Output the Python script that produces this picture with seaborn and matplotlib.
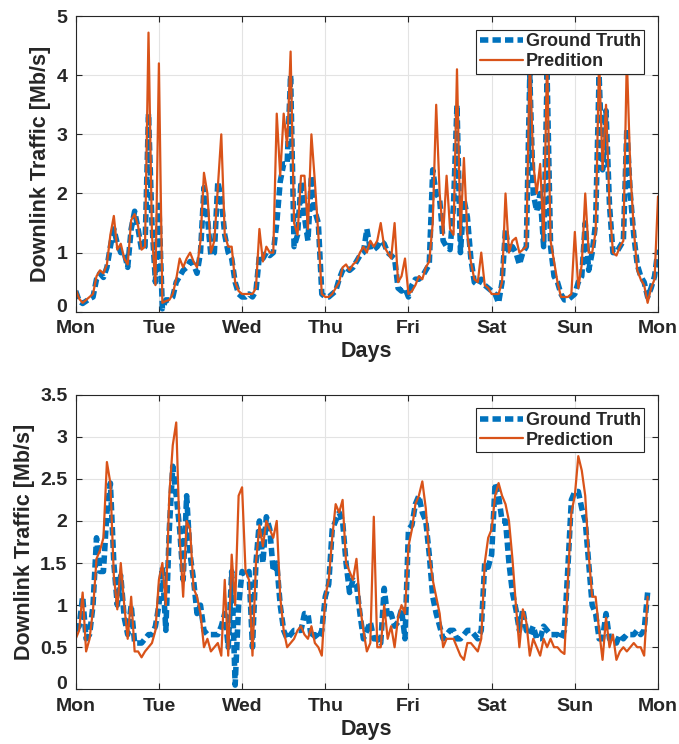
import numpy as np
import pandas as pd
import matplotlib
matplotlib.use("Agg")
import matplotlib.pyplot as plt
from matplotlib.ticker import FuncFormatter
import seaborn as sns

day_labels = ["Mon", "Tue", "Wed", "Thu", "Fri", "Sat", "Sun", "Mon"]

# Hourly downlink traffic of the first cell (Mb/s), Mon 00:00 .. next Mon 00:00
truth_a = [
    0.35, 0.18, 0.14, 0.18, 0.22, 0.25, 0.55, 0.65, 0.58, 0.75, 1.1, 1.4,
    1.15, 1.0, 1.0, 0.75, 1.4, 1.7, 1.4, 1.05, 1.1, 3.35, 1.5, 0.5,
    1.8, 0.05, 0.2, 0.2, 0.25, 0.5, 0.6, 0.7, 0.75, 0.85, 0.8, 0.65,
    1.0, 2.1, 1.6, 0.95, 1.0, 2.2, 1.9, 1.3, 1.0, 0.9, 0.5, 0.3,
    0.25, 0.25, 0.3, 0.25, 0.35, 0.95, 0.9, 1.0, 0.95, 1.0, 1.5, 2.2,
    2.5, 2.5, 4.0, 1.1, 1.3, 2.2, 1.6, 1.2, 2.3, 1.7, 1.5, 0.3,
    0.25, 0.25, 0.3, 0.35, 0.55, 0.7, 0.75, 0.7, 0.75, 0.85, 0.95, 1.0,
    1.4, 1.05, 1.05, 1.1, 1.2, 1.15, 1.0, 0.95, 0.9, 0.4, 0.35, 0.4,
    0.25, 0.45, 0.55, 0.55, 0.6, 0.7, 0.8, 2.4, 2.0, 1.9, 1.2, 1.1,
    1.05, 1.8, 3.5, 1.0, 1.9, 1.6, 0.9, 0.5, 0.45, 0.55, 0.45, 0.4,
    0.35, 0.3, 0.15, 0.5, 1.4, 1.0, 1.1, 1.0, 0.8, 1.0, 1.1, 4.0,
    2.0, 1.7, 2.0, 1.1, 4.0, 1.1, 0.6, 0.5, 0.3, 0.2, 0.2, 0.25,
    0.3, 0.5, 0.6, 1.5, 0.7, 1.0, 1.5, 4.0, 2.4, 3.4, 1.8, 1.0,
    1.0, 1.1, 1.2, 3.1, 2.0, 1.3, 0.8, 0.6, 0.5, 0.25, 0.4, 0.6,
    1.05,
]
pred_a = [
    0.38, 0.22, 0.15, 0.2, 0.25, 0.3, 0.6, 0.7, 0.65, 0.8, 1.3, 1.62,
    1.05, 1.15, 0.9, 0.8, 1.55, 1.65, 1.45, 1.05, 1.1, 4.72, 1.3, 0.45,
    4.2, 0.15, 0.18, 0.2, 0.3, 0.55, 0.9, 0.75, 0.9, 1.0, 0.85, 0.75,
    1.2, 2.35, 2.0, 1.0, 1.2, 2.1, 3.0, 1.3, 1.1, 1.1, 0.5, 0.35,
    0.3, 0.3, 0.3, 0.3, 0.4, 1.4, 0.85, 1.1, 1.0, 1.0, 3.35, 2.3,
    3.35, 2.8, 4.4, 1.5, 1.3, 2.3, 2.3, 1.4, 3.0, 2.2, 1.3, 0.3,
    0.25, 0.25, 0.3, 0.4, 0.5, 0.75, 0.8, 0.7, 0.8, 0.85, 1.0, 1.1,
    1.0, 1.2, 1.1, 1.2, 1.5, 1.1, 1.0, 0.9, 1.5, 0.5, 0.6, 0.9,
    0.3, 0.35, 0.45, 0.6, 0.55, 0.75, 0.85, 1.5, 3.5, 2.0, 1.3, 2.3,
    1.4, 1.3, 4.1, 1.3, 2.6, 1.3, 0.85, 0.55, 0.5, 1.0, 0.45, 0.4,
    0.3, 0.3, 0.3, 0.5, 2.0, 1.0, 1.2, 1.25, 1.0, 1.05, 1.1, 4.3,
    2.5, 2.0, 2.5, 1.2, 4.3, 1.2, 0.85, 0.5, 0.25, 0.25, 0.25, 0.3,
    1.35, 0.4, 0.8, 2.0, 1.0, 1.0, 1.35, 4.3, 2.4, 3.5, 1.8, 1.0,
    0.95, 1.1, 1.2, 4.3, 2.4, 1.4, 0.7, 0.55, 0.45, 0.15, 0.4, 0.55,
    1.95,
]

# Hourly downlink traffic of the second cell (Mb/s), Mon 00:00 .. Sun 21:00
truth_b = [
    0.7, 0.75, 1.1, 0.6, 0.65, 1.0, 1.8, 1.4, 1.4, 2.1, 2.45, 1.5,
    1.0, 1.35, 0.85, 0.65, 1.0, 0.55, 0.55, 0.55, 0.6, 0.65, 0.65, 0.75,
    1.0, 1.45, 0.7, 1.9, 2.65, 2.3, 1.9, 1.3, 2.3, 1.6, 1.3, 0.9,
    1.0, 0.7, 0.65, 0.65, 0.65, 0.65, 0.75, 0.9, 0.5, 1.4, 0.05, 1.0,
    1.4, 1.35, 1.4, 0.5, 1.5, 2.0, 1.5, 2.05, 1.9, 1.4, 1.5, 1.0,
    0.7, 0.6, 0.65, 0.7, 0.7, 0.7, 0.9, 0.9, 0.6, 0.65, 0.6, 0.7,
    1.1, 1.25, 1.9, 2.0, 2.1, 2.0, 1.5, 1.15, 1.3, 1.25, 0.9, 0.6,
    0.7, 0.8, 0.6, 0.6, 0.55, 1.2, 0.85, 0.9, 0.75, 0.8, 0.95, 0.6,
    1.9, 1.95, 2.2, 2.3, 2.1, 2.0, 1.6, 1.1, 0.9, 0.75, 0.6, 0.65,
    0.7, 0.7, 0.6, 0.6, 0.65, 0.7, 0.7, 0.65, 0.6, 0.7, 1.5, 1.45,
    1.6, 2.45, 2.3, 2.0, 2.0, 1.5, 1.15, 0.95, 0.7, 0.95, 0.7, 0.65,
    0.75, 0.6, 0.6, 0.75, 0.7, 0.65, 0.65, 0.65, 0.6, 0.7, 1.45, 2.25,
    2.35, 2.35, 2.15, 2.0, 1.5, 1.0, 0.9, 0.6, 0.6, 0.9, 0.6, 0.55,
    0.55, 0.65, 0.6, 0.65, 0.65, 0.65, 0.7, 0.65, 0.7, 1.15,
]
pred_b = [
    0.6, 0.7, 1.15, 0.45, 0.6, 0.95, 1.55, 1.65, 1.8, 2.7, 2.45, 1.35,
    0.95, 1.5, 1.0, 0.6, 1.1, 0.45, 0.45, 0.38, 0.45, 0.5, 0.55, 0.7,
    1.3, 1.5, 1.0, 2.3, 2.9, 3.17, 1.8, 1.1, 2.0, 1.9, 1.2, 1.1,
    0.9, 0.5, 0.6, 0.45, 0.5, 0.55, 0.4, 1.3, 0.4, 1.6, 1.0, 2.3,
    2.4, 1.4, 1.3, 0.4, 1.5, 1.95, 1.7, 2.0, 1.9, 1.8, 2.0, 1.1,
    0.7, 0.5, 0.55, 0.6, 0.7, 0.75, 0.65, 0.6, 0.75, 0.55, 0.5, 0.4,
    1.1, 1.3, 1.8, 2.2, 2.1, 2.25, 1.5, 1.4, 1.3, 1.55, 1.0, 0.7,
    0.45, 0.55, 2.05, 0.5, 0.5, 1.0, 0.6, 0.75, 0.5, 0.85, 1.0, 0.9,
    1.7, 1.9, 2.2, 2.3, 2.47, 2.15, 1.6, 1.3, 1.1, 0.9, 0.5, 0.6,
    0.6, 0.6, 0.5, 0.4, 0.35, 0.55, 0.55, 0.5, 0.45, 0.6, 1.5, 1.8,
    1.9, 2.3, 2.45, 2.3, 2.2, 2.0, 1.55, 1.0, 0.5, 0.95, 0.8, 0.4,
    0.6, 0.5, 0.4, 0.6, 0.5, 0.6, 0.5, 0.5, 0.45, 0.42, 1.3, 2.1,
    2.3, 2.77, 2.6, 2.3, 1.6, 1.1, 1.1, 0.7, 0.35, 0.85, 0.5, 0.65,
    0.35, 0.45, 0.5, 0.45, 0.5, 0.55, 0.5, 0.5, 0.4, 1.1,
]

BLUE = "#0072BD"
ORANGE = "#D95319"
INK = "#262626"

sns.set_theme(style="ticks")
plt.rcParams.update({
    "font.weight": "bold",
    "axes.labelweight": "bold",
    "axes.edgecolor": INK,
    "axes.labelcolor": INK,
    "xtick.color": INK,
    "ytick.color": INK,
    "text.color": INK,
    "axes.linewidth": 0.8,
})
plt.rcParams["font.family"] = ["Liberation Sans", "DejaVu Sans"]

fig = plt.figure(figsize=(6.79, 7.44), dpi=100)
ax_top = fig.add_axes([0.1115, 0.581, 0.8576, 0.3974])
ax_bot = fig.add_axes([0.1115, 0.0735, 0.8576, 0.396])


def draw_panel(ax, truth, pred, pred_label, ymax, ystep):
    hours = np.arange(len(truth))
    df = pd.DataFrame({"day": hours / 24.0, "truth": truth, "pred": pred})
    sns.lineplot(data=df, x="day", y="truth", ax=ax, color=BLUE, lw=4.0,
                 linestyle=(0, (1.5, 0.75)), label="Ground Truth")
    sns.lineplot(data=df, x="day", y="pred", ax=ax, color=ORANGE, lw=1.6,
                 label=pred_label)
    ax.set_xlim(0, 7)
    ax.set_ylim(0, ymax)
    ax.set_xticks(range(len(day_labels)))
    ax.set_xticklabels(day_labels)
    ax.set_yticks(np.arange(0, ymax + 1e-9, ystep))
    ax.yaxis.set_major_formatter(FuncFormatter(lambda v, _: f"{v:g}"))
    ax.grid(True, color="#e3e3e3", lw=0.8)
    ax.set_axisbelow(True)
    ax.tick_params(direction="in", length=4, width=0.8, top=True, right=True,
                   labelsize=14, pad=6)
    # sit the zero label on its tick so it clears the first day label
    ax.yaxis.get_major_ticks()[0].label1.set_verticalalignment("baseline")
    for s in ax.spines.values():
        s.set_visible(True)
        s.set_color(INK)
        s.set_linewidth(0.8)
    ax.set_xlabel("Days", fontsize=15.5, fontweight="bold", labelpad=3)
    ax.set_ylabel("Downlink Traffic [Mb/s]", fontsize=15.5, fontweight="bold",
                  labelpad=4)
    leg = ax.legend(loc="upper right", fontsize=13, frameon=True, fancybox=False,
                    framealpha=1, edgecolor=INK, borderpad=0.2,
                    handlelength=2.4, handletextpad=0.15, labelspacing=0.15,
                    borderaxespad=0.75, prop={"weight": "bold", "size": 13})
    leg.get_frame().set_linewidth(0.8)


draw_panel(ax_top, truth_a, pred_a, "Predition", 5, 1)
draw_panel(ax_bot, truth_b, pred_b, "Prediction", 3.5, 0.5)

fig.savefig("out.png", dpi=100)
